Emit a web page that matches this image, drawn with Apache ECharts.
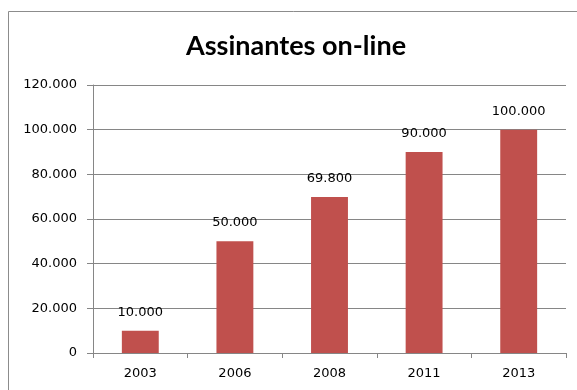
<!DOCTYPE html>
<html><head><meta charset="utf-8">
<script src="https://cdn.jsdelivr.net/npm/echarts@6/dist/echarts.min.js"></script>
<style>html,body{margin:0;padding:0;background:#fff}#c{width:577px;height:390px}</style>
</head><body><div id="c"></div>
<script>
const categories = ['2003', '2006', '2008', '2011', '2013'];
const values = [10000, 50000, 69800, 90000, 100000];
const yTicks = [0, 20000, 40000, 60000, 80000, 100000, 120000];
const title = 'Assinantes on-line';

function fmt(v) {
  if (v === 0) return '0';
  const s = String(Math.round(v));
  return s.replace(/\B(?=(\d{3})+(?!\d))/g, '.');
}

const chart = echarts.init(document.getElementById('c'), null, {renderer: 'canvas'});
chart.setOption({
  animation: false,
  backgroundColor: '#fff',
  graphic: [{
    type: 'rect', shape: {x: 8.5, y: 11.5, width: 600, height: 400},
    style: {fill: 'none', stroke: '#8c8c8c', lineWidth: 1}, silent: true
  }, {
    type: 'text', x: 296, y: 33, silent: true,
    style: {text: title, fontFamily: 'Lato', fontWeight: 'bold', fontSize: 27, fill: '#000',
      textAlign: 'center', textVerticalAlign: 'top', verticalAlign: 'top'}
  }],
  grid: {left: 93, right: 11, top: 85, bottom: 37},
  xAxis: {
    type: 'category', data: categories,
    axisLine: {lineStyle: {color: '#868686'}},
    axisTick: {show: true, length: 5, lineStyle: {color: '#868686'}},
    axisLabel: {color: '#000', fontFamily: 'DejaVu Sans', fontSize: 13, margin: 14}
  },
  yAxis: {
    type: 'value', min: yTicks[0], max: yTicks[yTicks.length - 1], interval: yTicks[1] - yTicks[0],
    axisLine: {show: true, lineStyle: {color: '#868686'}},
    axisTick: {show: true, length: 6, lineStyle: {color: '#868686'}},
    splitLine: {lineStyle: {color: '#868686'}},
    axisLabel: {color: '#000', fontFamily: 'DejaVu Sans', fontSize: 13, margin: 16, formatter: fmt}
  },
  series: [{
    type: 'bar', data: values, barWidth: '39%',
    itemStyle: {color: '#C0504D'},
    label: {show: true, position: 'top', distance: 12, color: '#000', fontFamily: 'DejaVu Sans', fontSize: 13,
      formatter: p => fmt(p.value)}
  }]
});
</script></body></html>
